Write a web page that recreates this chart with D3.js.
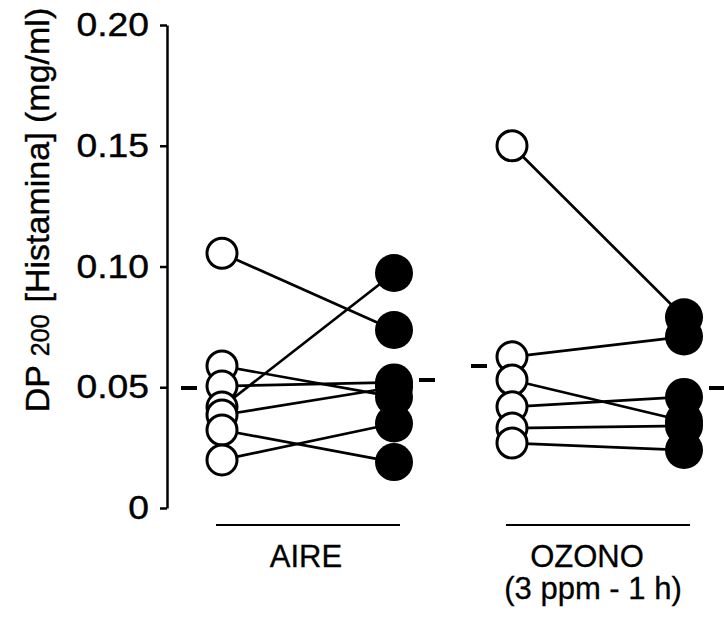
<!DOCTYPE html>
<html>
<head>
<meta charset="utf-8">
<script src="https://cdn.jsdelivr.net/npm/d3@7"></script>
<style>
  html, body { margin: 0; padding: 0; background: #fff; }
  svg { display: block; font-family: "Liberation Sans", Arial, Helvetica, sans-serif; }
</style>
</head>
<body>
<svg id="chart" width="724" height="617"></svg>
<script>
// ---- data ----
const groups = ["AIRE", "OZONO"];
const conditions = ["pre", "post"];
const airePre   = [0.1055, 0.0588, 0.0505, 0.0418, 0.0385, 0.0323, 0.0199];
const airePost  = [0.0737, 0.0460, 0.0520, 0.0973, 0.0500, 0.0190, 0.0350];
const ozonoPre  = [0.1500, 0.0626, 0.0530, 0.0419, 0.0331, 0.0269];
const ozonoPost = [0.0790, 0.0710, 0.0360, 0.0460, 0.0340, 0.0240];
const meanPre   = [0.0497, 0.0588];
const meanPost  = [0.0530, 0.0497];
const tickValues = [0, 0.05, 0.10, 0.15, 0.20];
const tickLabels = ["0", "0.05", "0.10", "0.15", "0.20"];
const groupLabels = [["AIRE"], ["OZONO", "(3 ppm - 1 h)"]];

const svg = d3.select("#chart");
svg.append("rect").attr("width", 724).attr("height", 617).attr("fill", "#fff");

const y = d3.scaleLinear().domain([0, 0.20]).range([508, 25]);
const xGroup = d3.scaleBand().domain(groups).range([163, 743]).padding(0);
const xCond = d3.scalePoint().domain(conditions).range([-86, 86]);
const cx = (g, c) => xGroup(g) + xGroup.bandwidth() / 2 + xCond(c);

// ---- y axis ----
const axis = d3.axisLeft(y)
  .tickValues(tickValues)
  .tickFormat((d, i) => tickLabels[i])
  .tickSize(7)
  .tickSizeOuter(0)
  .tickPadding(11);
const gAxis = svg.append("g").attr("transform", "translate(167,0)").call(axis);
gAxis.select(".domain").attr("stroke", "#000").attr("stroke-width", 2.5);
gAxis.selectAll(".tick line").attr("stroke", "#000").attr("stroke-width", 2.5);
gAxis.selectAll(".tick text")
  .attr("fill", "#000")
  .attr("stroke", "#000").attr("stroke-width", 0.4)
  .attr("font-size", 33)
  .attr("font-family", "'Liberation Sans', Arial, sans-serif")
  .attr("transform", "scale(1.13,1)")
  .attr("x", -18 / 1.13);

// ---- y title ----
const title = svg.append("text")
  .attr("transform", "translate(49,210) rotate(-90)")
  .attr("text-anchor", "middle")
  .attr("font-size", 34)
  .attr("fill", "#000")
  .attr("stroke", "#000").attr("stroke-width", 0.4);
title.append("tspan").text("DP ");
title.append("tspan").attr("font-size", 25).text("200");
title.append("tspan").attr("dx", 12).text("[Histamina] (mg/ml)");

// ---- paired data ----
const sets = [
  { g: "AIRE", pre: airePre, post: airePost },
  { g: "OZONO", pre: ozonoPre, post: ozonoPost }
];

sets.forEach(s => {
  const pairs = s.pre.map((v, i) => ({ pre: v, post: s.post[i] }));
  const gg = svg.append("g");
  gg.selectAll("line.pair").data(pairs).join("line")
    .attr("x1", cx(s.g, "pre")).attr("y1", d => y(d.pre))
    .attr("x2", cx(s.g, "post")).attr("y2", d => y(d.post))
    .attr("stroke", "#000").attr("stroke-width", 2.7);
  const preSorted = s.pre.slice().sort((a, b) => b - a);
  gg.selectAll("circle.open").data(preSorted).join("circle")
    .attr("cx", cx(s.g, "pre")).attr("cy", d => y(d)).attr("r", 15)
    .attr("fill", "#fff").attr("stroke", "#000").attr("stroke-width", 3);
  gg.selectAll("circle.fill").data(s.post).join("circle")
    .attr("cx", cx(s.g, "post")).attr("cy", d => y(d)).attr("r", 19)
    .attr("fill", "#000");
});

// ---- mean dashes ----
groups.forEach((g, i) => {
  svg.append("line")
    .attr("x1", cx(g, "pre") - 41).attr("x2", cx(g, "pre") - 25)
    .attr("y1", y(meanPre[i])).attr("y2", y(meanPre[i]))
    .attr("stroke", "#000").attr("stroke-width", 4);
  svg.append("line")
    .attr("x1", cx(g, "post") + 25).attr("x2", cx(g, "post") + 41)
    .attr("y1", y(meanPost[i])).attr("y2", y(meanPost[i]))
    .attr("stroke", "#000").attr("stroke-width", 4);
});

// ---- group underlines and labels ----
const labelShift = [[-2], [-11, -5]];
groups.forEach((g, i) => {
  const c = xGroup(g) + xGroup.bandwidth() / 2;
  svg.append("line")
    .attr("x1", c - 92).attr("x2", c + 92)
    .attr("y1", 525).attr("y2", 525)
    .attr("stroke", "#000").attr("stroke-width", 2);
  groupLabels[i].forEach((t, j) => {
    svg.append("text")
      .attr("x", c + labelShift[i][j]).attr("y", 567 + j * 32)
      .attr("text-anchor", "middle")
      .attr("font-size", 31)
      .attr("fill", "#000")
      .attr("stroke", "#000").attr("stroke-width", 0.3)
      .text(t);
  });
});
</script>
</body>
</html>
